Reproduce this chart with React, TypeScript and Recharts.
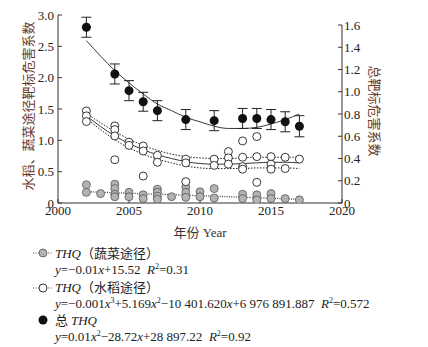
import { ComposedChart, Line, Scatter, XAxis, YAxis, ErrorBar, ReferenceLine } from 'recharts';

// year ticks / axis ticks
const yearTicks = [2000, 2005, 2010, 2015, 2020];
const leftTicks = [0, 0.5, 1.0, 1.5, 2.0, 2.5, 3.0];
const rightTicks = [0, 0.2, 0.4, 0.6, 0.8, 1.0, 1.2, 1.4, 1.6];

// 蔬菜途径 THQ (grey dots), values per year, left axis
const vegYears = [2002, 2003, 2004, 2005, 2006, 2007, 2008, 2009, 2010, 2011, 2013, 2014, 2015, 2016, 2017];
const vegValues = [
  [0.29, 0.17], [0.15], [0.30, 0.23, 0.14, 0.10], [0.17, 0.10], [0.13, 0.07],
  [0.22, 0.17, 0.11, 0.06], [0.10], [0.25, 0.17, 0.09], [0.18, 0.10], [0.23, 0.08],
  [0.14, 0.07], [0.13, 0.05], [0.15, 0.07], [0.07], [0.05],
];
const vegFitYears = [2002, 2017];
const vegFit = [0.18, 0.06];

// 水稻途径 THQ (open circles), left axis
const riceYears = [2002, 2004, 2005, 2006, 2007, 2009, 2011, 2012, 2013, 2014, 2015, 2016, 2017];
const riceValues = [
  [1.47, 1.39, 1.30], [1.23, 1.17, 1.07, 0.69], [0.97, 0.92], [0.91, 0.83, 0.43], [0.76, 0.65],
  [0.70, 0.64, 0.34], [0.70, 0.60], [0.82, 0.72, 0.62], [0.99, 0.73, 0.58, 0.54],
  [1.06, 0.74, 0.33], [0.74, 0.62, 0.54], [0.73, 0.55], [0.70],
];
const fitYears = [2002, 2003, 2004, 2005, 2006, 2007, 2008, 2009, 2010, 2011, 2012, 2013, 2014, 2015, 2016, 2017];
const riceFit = [1.39, 1.22, 1.07, 0.95, 0.85, 0.77, 0.71, 0.66, 0.63, 0.62, 0.62, 0.63, 0.64, 0.65, 0.65, 0.64];
const riceUpper = [1.43, 1.28, 1.14, 1.02, 0.92, 0.84, 0.78, 0.74, 0.72, 0.71, 0.71, 0.72, 0.73, 0.73, 0.73, 0.73];
const riceLower = [1.35, 1.17, 1.01, 0.88, 0.78, 0.70, 0.64, 0.59, 0.56, 0.55, 0.55, 0.55, 0.56, 0.56, 0.56, 0.55];

// 总 THQ (black dots with error bars), right axis
const totalYears = [2002, 2004, 2005, 2006, 2007, 2009, 2011, 2013, 2014, 2015, 2016, 2017];
const totalValues = [1.58, 1.16, 1.01, 0.91, 0.83, 0.75, 0.74, 0.76, 0.76, 0.75, 0.73, 0.69];
const totalErr = [0.09, 0.09, 0.09, 0.085, 0.09, 0.09, 0.09, 0.09, 0.09, 0.09, 0.09, 0.095];
const totalFit = [1.46, 1.32, 1.19, 1.08, 0.98, 0.89, 0.83, 0.77, 0.73, 0.69, 0.67, 0.67, 0.68, 0.71, 0.75, 0.80];

const vegData = vegYears.flatMap((x, i) => vegValues[i].map(y => ({ x, y })));
const riceData = riceYears.flatMap((x, i) => riceValues[i].map(y => ({ x, y })));
const totalData = totalYears.map((x, i) => ({ x, y: totalValues[i], err: totalErr[i] }));
const toLine = (xs: number[], ys: number[]) => xs.map((x, i) => ({ x, y: ys[i] }));

const SERIF = '"Liberation Serif", "Noto Sans CJK SC", serif';
const CJK = '"Noto Sans CJK SC", sans-serif';
const TITLE = '#6b3b2c';
const fmt = (v: number) => (v === 0 ? '0' : v.toFixed(1));
const tickStyle = { fontSize: 13, fill: '#222', fontFamily: SERIF };
const I = ({ children }: { children: string }) => <tspan fontStyle="italic">{children}</tspan>;

// rotated axis title as html, centred on (cx, cy)
const VTitle = ({ text, cx, cy, deg }: { text: string; cx: number; cy: number; deg: number }) => (
  <div style={{
    position: 'absolute', left: cx - 100, top: cy - 9, width: 200, height: 18, lineHeight: '18px',
    textAlign: 'center', whiteSpace: 'nowrap', fontSize: 13, fontFamily: CJK, color: TITLE,
    transform: `rotate(${deg}deg)`, transformOrigin: '100px 9px',
  }}>{text}</div>
);

export default function App() {
  return (
    <div style={{ position: 'absolute', left: 0, top: 0, width: 428, height: 347, background: '#fff' }}>
      <ComposedChart width={428} height={347} margin={{ top: 15, right: 46, bottom: 114, left: 18 }}>
        <XAxis
          type="number" dataKey="x" domain={[2000, 2020]} ticks={yearTicks}
          allowDataOverflow tick={tickStyle} tickSize={-4} tickMargin={7} height={30}
          stroke="#333"
        />
        <YAxis
          yAxisId="left" type="number" domain={[0, 3]} ticks={leftTicks} tickFormatter={fmt}
          allowDataOverflow tick={tickStyle} tickSize={-4} tickMargin={8} width={40} stroke="#333"
        />
        <YAxis
          yAxisId="right" orientation="right" type="number" domain={[0, 1.69]} ticks={rightTicks}
          allowDataOverflow tickFormatter={fmt} tick={tickStyle} tickSize={-4} tickMargin={6} width={40}
          axisLine={false} stroke="#333"
        />
        <ReferenceLine yAxisId="right" segment={[{ x: 2020, y: 0 }, { x: 2020, y: 1.6 }]} stroke="#333" ifOverflow="visible" />

        <Scatter yAxisId="left" data={vegData} dataKey="y" isAnimationActive={false}
          shape={(p: any) => <circle cx={p.cx} cy={p.cy} r={4} fill="#b3b3b3" stroke="#555" strokeWidth={0.8} />} />
        <Line yAxisId="left" data={toLine(vegFitYears, vegFit)} dataKey="y" type="linear" dot={false}
          stroke="#444" strokeWidth={1.3} strokeDasharray="1 1.3" isAnimationActive={false} />

        <Line yAxisId="left" data={toLine(fitYears, riceUpper)} dataKey="y" type="monotone" dot={false}
          stroke="#222" strokeWidth={1} strokeDasharray="1.5 1.5" isAnimationActive={false} />
        <Line yAxisId="left" data={toLine(fitYears, riceLower)} dataKey="y" type="monotone" dot={false}
          stroke="#222" strokeWidth={1} strokeDasharray="1.5 1.5" isAnimationActive={false} />
        <Line yAxisId="left" data={toLine(fitYears, riceFit)} dataKey="y" type="monotone" dot={false}
          stroke="#222" strokeWidth={0.9} isAnimationActive={false} />
        <Scatter yAxisId="left" data={riceData} dataKey="y" isAnimationActive={false}
          shape={(p: any) => <circle cx={p.cx} cy={p.cy} r={4} fill="#fff" stroke="#222" strokeWidth={0.9} />} />

        <Line yAxisId="right" data={toLine(fitYears, totalFit)} dataKey="y" type="monotone" dot={false}
          stroke="#222" strokeWidth={0.9} isAnimationActive={false} />
        <Scatter yAxisId="right" data={totalData} dataKey="y" isAnimationActive={false}
          shape={(p: any) => <circle cx={p.cx} cy={p.cy} r={4.5} fill="#111" />}>
          <ErrorBar dataKey="err" direction="y" width={5} stroke="#222" strokeWidth={1} />
        </Scatter>
      </ComposedChart>

      <VTitle text="水稻、蔬菜途径靶标危害系数" cx={28} cy={106} deg={-90} />
      <VTitle text="总靶标危害系数" cx={375} cy={111} deg={90} />

      <svg width={428} height={347} style={{ position: 'absolute', left: 0, top: 0, pointerEvents: 'none' }}>
        <text x={200} y={236.5} textAnchor="middle" fontSize={13} fill="#333" fontFamily={SERIF}>
          <tspan fontFamily={CJK}>年份</tspan> Year
        </text>

        <g fontFamily={SERIF} fontSize={13} fill="#222">
          <line x1={33} x2={52} y1={253} y2={253} stroke="#555" strokeDasharray="1 1.5" />
          <circle cx={43} cy={253} r={4} fill="#b3b3b3" stroke="#555" strokeWidth={0.8} />
          <text x={55} y={257.5}><I>THQ</I><tspan fontFamily={CJK}>（蔬菜途径）</tspan></text>
          <text x={55} y={273.5}>
            <I>y</I>=−0.01<I>x</I>+15.52{'\u00a0\u00a0'}<I>R</I>
            <tspan dy={-5} fontSize={8}>2</tspan><tspan dy={5}>=0.31</tspan>
          </text>

          <line x1={33} x2={52} y1={288} y2={288} stroke="#555" strokeDasharray="1 1.5" />
          <circle cx={43} cy={288} r={4} fill="#fff" stroke="#222" strokeWidth={0.9} />
          <text x={55} y={292}><I>THQ</I><tspan fontFamily={CJK}>（水稻途径）</tspan></text>
          <text x={55} y={307.5}>
            <I>y</I>=−0.001<I>x</I>
            <tspan dy={-5} fontSize={8}>3</tspan><tspan dy={5}>+5.169</tspan><I>x</I>
            <tspan dy={-5} fontSize={8}>2</tspan><tspan dy={5}>−10 401.620</tspan><I>x</I>
            +6 976 891.887{'\u00a0\u00a0'}<I>R</I>
            <tspan dy={-5} fontSize={8}>2</tspan><tspan dy={5}>=0.572</tspan>
          </text>

          <circle cx={43} cy={320} r={4.5} fill="#111" />
          <text x={55} y={324.5}><tspan fontFamily={CJK}>总 </tspan><I>THQ</I></text>
          <text x={55} y={340.5}>
            <I>y</I>=0.01<I>x</I>
            <tspan dy={-5} fontSize={8}>2</tspan><tspan dy={5}>−28.72</tspan><I>x</I>
            +28 897.22{'\u00a0\u00a0'}<I>R</I>
            <tspan dy={-5} fontSize={8}>2</tspan><tspan dy={5}>=0.92</tspan>
          </text>
        </g>
      </svg>
    </div>
  );
}
